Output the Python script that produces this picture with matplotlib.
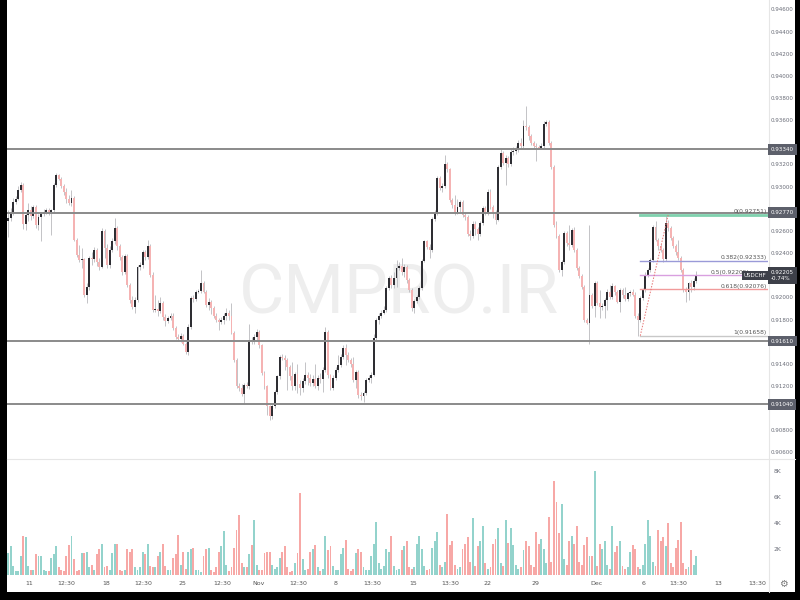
import numpy as np
import matplotlib
matplotlib.use("Agg")
from matplotlib import pyplot as plt
from matplotlib.patches import Rectangle

# USDCHF 4H candles
first_open = 0.9269
closes = [
    0.9272, 0.9277, 0.9287, 0.9289, 0.9297, 0.9302, 0.9267, 0.9275, 0.9279, 0.9274,
    0.9282, 0.9266, 0.9273, 0.9276, 0.9278, 0.9279, 0.9278, 0.9279, 0.9302, 0.9311,
    0.9307, 0.9301, 0.9296, 0.9289, 0.9286, 0.9290, 0.9252, 0.9239, 0.9234, 0.9235,
    0.9203, 0.9210, 0.9236, 0.9235, 0.9243, 0.9232, 0.9228, 0.9260, 0.9245, 0.9230,
    0.9243, 0.9251, 0.9263, 0.9247, 0.9237, 0.9223, 0.9238, 0.9212, 0.9198, 0.9192,
    0.9198, 0.9228, 0.9230, 0.9241, 0.9237, 0.9247, 0.9221, 0.9189, 0.9190, 0.9188,
    0.9195, 0.9183, 0.9179, 0.9182, 0.9184, 0.9173, 0.9165, 0.9163, 0.9166, 0.9158,
    0.9151, 0.9174, 0.9200, 0.9199, 0.9205, 0.9206, 0.9213, 0.9205, 0.9194, 0.9196,
    0.9191, 0.9184, 0.9180, 0.9178, 0.9180, 0.9184, 0.9186, 0.9184, 0.9168, 0.9144,
    0.9120, 0.9119, 0.9113, 0.9121, 0.9120, 0.9162, 0.9160, 0.9165, 0.9169, 0.9157,
    0.9132, 0.9120, 0.9102, 0.9093, 0.9102, 0.9115, 0.9129, 0.9147, 0.9146, 0.9144,
    0.9138, 0.9129, 0.9120, 0.9131, 0.9122, 0.9119, 0.9125, 0.9130, 0.9128, 0.9123,
    0.9127, 0.9120, 0.9128, 0.9127, 0.9135, 0.9169, 0.9130, 0.9119, 0.9128, 0.9135,
    0.9139, 0.9147, 0.9155, 0.9148, 0.9144, 0.9140, 0.9126, 0.9133, 0.9112, 0.9111,
    0.9114, 0.9126, 0.9128, 0.9130, 0.9164, 0.9180, 0.9184, 0.9186, 0.9189, 0.9209,
    0.9218, 0.9212, 0.9218, 0.9227, 0.9229, 0.9223, 0.9228, 0.9216, 0.9207, 0.9191,
    0.9197, 0.9201, 0.9209, 0.9233, 0.9251, 0.9246, 0.9243, 0.9271, 0.9277, 0.9308,
    0.9299, 0.9301, 0.9321, 0.9316, 0.9288, 0.9284, 0.9278, 0.9282, 0.9287, 0.9275,
    0.9273, 0.9258, 0.9256, 0.9267, 0.9262, 0.9258, 0.9268, 0.9281, 0.9277, 0.9296,
    0.9282, 0.9278, 0.9270, 0.9318, 0.9331, 0.9322, 0.9326, 0.9321, 0.9332, 0.9333,
    0.9334, 0.9340, 0.9337, 0.9355, 0.9354, 0.9346, 0.9340, 0.9337, 0.9336, 0.9335,
    0.9337, 0.9357, 0.9359, 0.9340, 0.9318, 0.9266, 0.9256, 0.9225, 0.9232, 0.9259,
    0.9250, 0.9248, 0.9261, 0.9243, 0.9227, 0.9220, 0.9210, 0.9180, 0.9177, 0.9203,
    0.9193, 0.9213, 0.9195, 0.9192, 0.9193, 0.9198, 0.9205, 0.9201, 0.9211, 0.9205,
    0.9196, 0.9207, 0.9203, 0.9199, 0.9204, 0.9205, 0.9203, 0.9184, 0.9180, 0.9200,
    0.9207, 0.9221, 0.9225, 0.9234, 0.9264, 0.9252, 0.9247, 0.9243, 0.9235, 0.9268,
    0.9263, 0.9254, 0.9247, 0.9241, 0.9236, 0.9225, 0.9207, 0.9205, 0.9213, 0.9210,
    0.9215, 0.92205,
]
highs = [
    0.9279, 0.9281, 0.9290, 0.9292, 0.9301, 0.9305, 0.9304, 0.9278, 0.9286, 0.9283,
    0.9284, 0.9284, 0.9276, 0.9278, 0.9280, 0.9281, 0.9281, 0.9280, 0.9304, 0.9313,
    0.9312, 0.9309, 0.9303, 0.9299, 0.9293, 0.9297, 0.9292, 0.9254, 0.9248, 0.9245,
    0.9236, 0.9213, 0.9238, 0.9241, 0.9246, 0.9245, 0.9236, 0.9263, 0.9262, 0.9249,
    0.9247, 0.9254, 0.9272, 0.9265, 0.9249, 0.9239, 0.9240, 0.9240, 0.9213, 0.9202,
    0.9201, 0.9230, 0.9232, 0.9243, 0.9243, 0.9252, 0.9249, 0.9223, 0.9203, 0.9198,
    0.9201, 0.9197, 0.9185, 0.9184, 0.9186, 0.9186, 0.9175, 0.9167, 0.9168, 0.9167,
    0.9160, 0.9176, 0.9202, 0.9203, 0.9207, 0.9208, 0.9225, 0.9215, 0.9207, 0.9200,
    0.9198, 0.9193, 0.9186, 0.9182, 0.9183, 0.9186, 0.9191, 0.9189, 0.9195, 0.9170,
    0.9146, 0.9123, 0.9122, 0.9123, 0.9124, 0.9176, 0.9165, 0.9167, 0.9172, 0.9171,
    0.9158, 0.9134, 0.9121, 0.9103, 0.9104, 0.9117, 0.9130, 0.9148, 0.9149, 0.9148,
    0.9146, 0.9139, 0.9142, 0.9133, 0.9140, 0.9126, 0.9128, 0.9142, 0.9133, 0.9131,
    0.9130, 0.9140, 0.9130, 0.9132, 0.9138, 0.9174, 0.9171, 0.9131, 0.9130, 0.9138,
    0.9148, 0.9149, 0.9157, 0.9158, 0.9151, 0.9146, 0.9147, 0.9135, 0.9135, 0.9115,
    0.9116, 0.9128, 0.9130, 0.9133, 0.9167, 0.9182, 0.9186, 0.9189, 0.9193, 0.9211,
    0.9220, 0.9221, 0.9223, 0.9234, 0.9232, 0.9236, 0.9231, 0.9230, 0.9218, 0.9209,
    0.9199, 0.9203, 0.9211, 0.9235, 0.9252, 0.9252, 0.9249, 0.9273, 0.9279, 0.9310,
    0.9310, 0.9304, 0.9329, 0.9323, 0.9317, 0.9290, 0.9293, 0.9289, 0.9288, 0.9288,
    0.9278, 0.9275, 0.9261, 0.9269, 0.9269, 0.9264, 0.9269, 0.9283, 0.9283, 0.9298,
    0.9298, 0.9284, 0.9279, 0.9320, 0.9334, 0.9333, 0.9329, 0.9328, 0.9335, 0.9336,
    0.9337, 0.9343, 0.9344, 0.9361, 0.9373, 0.9356, 0.9348, 0.9342, 0.9340, 0.9338,
    0.9340, 0.9360, 0.9361, 0.9361, 0.9342, 0.9320, 0.9269, 0.9258, 0.9234, 0.9260,
    0.9260, 0.9266, 0.9263, 0.9264, 0.9245, 0.9229, 0.9222, 0.9212, 0.9182, 0.9266,
    0.9204, 0.9215, 0.9215, 0.9207, 0.9195, 0.9200, 0.9208, 0.9212, 0.9213, 0.9212,
    0.9207, 0.9209, 0.9209, 0.9210, 0.9205, 0.9207, 0.9208, 0.9205, 0.9186, 0.9202,
    0.9209, 0.9223, 0.9227, 0.9236, 0.9266, 0.9269, 0.9254, 0.9249, 0.9245, 0.92751,
    0.9270, 0.9265, 0.9256, 0.9249, 0.9252, 0.9238, 0.9227, 0.9210, 0.9214, 0.9216,
    0.9218, 0.9224,
]
lows = [
    0.9255, 0.9269, 0.9275, 0.9285, 0.9288, 0.9296, 0.9262, 0.9261, 0.9269, 0.9270,
    0.9272, 0.9263, 0.9261, 0.9251, 0.9274, 0.9276, 0.9275, 0.9257, 0.9277, 0.9300,
    0.9306, 0.9299, 0.9293, 0.9286, 0.9284, 0.9283, 0.9251, 0.9237, 0.9232, 0.9227,
    0.9201, 0.9195, 0.9207, 0.9230, 0.9232, 0.9229, 0.9225, 0.9227, 0.9236, 0.9227,
    0.9227, 0.9241, 0.9249, 0.9243, 0.9234, 0.9221, 0.9222, 0.9210, 0.9195, 0.9190,
    0.9186, 0.9196, 0.9225, 0.9227, 0.9234, 0.9235, 0.9219, 0.9187, 0.9187, 0.9184,
    0.9186, 0.9180, 0.9175, 0.9177, 0.9180, 0.9171, 0.9163, 0.9161, 0.9160, 0.9157,
    0.9149, 0.9148, 0.9172, 0.9196, 0.9197, 0.9204, 0.9204, 0.9204, 0.9192, 0.9189,
    0.9185, 0.9182, 0.9178, 0.9171, 0.9176, 0.9176, 0.9180, 0.9180, 0.9167, 0.9142,
    0.9119, 0.9116, 0.9111, 0.9105, 0.9119, 0.9118, 0.9158, 0.9158, 0.9161, 0.9155,
    0.9130, 0.9118, 0.9094, 0.9090, 0.9091, 0.9101, 0.9113, 0.9127, 0.9144, 0.9135,
    0.9117, 0.9126, 0.9117, 0.9117, 0.9114, 0.9112, 0.9115, 0.9122, 0.9121, 0.9120,
    0.9120, 0.9119, 0.9117, 0.9123, 0.9115, 0.9133, 0.9128, 0.9117, 0.9117, 0.9126,
    0.9133, 0.9138, 0.9145, 0.9139, 0.9142, 0.9138, 0.9124, 0.9119, 0.9110, 0.9108,
    0.9106, 0.9112, 0.9124, 0.9123, 0.9129, 0.9162, 0.9176, 0.9182, 0.9185, 0.9187,
    0.9207, 0.9209, 0.9209, 0.9210, 0.9225, 0.9221, 0.9219, 0.9213, 0.9205, 0.9188,
    0.9186, 0.9195, 0.9199, 0.9207, 0.9232, 0.9244, 0.9236, 0.9241, 0.9269, 0.9275,
    0.9297, 0.9296, 0.9299, 0.9314, 0.9287, 0.9281, 0.9275, 0.9276, 0.9278, 0.9273,
    0.9270, 0.9256, 0.9252, 0.9254, 0.9257, 0.9252, 0.9256, 0.9266, 0.9275, 0.9275,
    0.9280, 0.9272, 0.9267, 0.9269, 0.9316, 0.9320, 0.9302, 0.9318, 0.9319, 0.9329,
    0.9330, 0.9332, 0.9335, 0.9335, 0.9352, 0.9343, 0.9338, 0.9335, 0.9324, 0.9334,
    0.9334, 0.9335, 0.9355, 0.9338, 0.9316, 0.9264, 0.9254, 0.9223, 0.9220, 0.9231,
    0.9247, 0.9243, 0.9246, 0.9241, 0.9225, 0.9218, 0.9208, 0.9178, 0.9176, 0.9158,
    0.9191, 0.9183, 0.9194, 0.9182, 0.9189, 0.9182, 0.9189, 0.9199, 0.9199, 0.9203,
    0.9195, 0.9187, 0.9200, 0.9197, 0.9197, 0.9202, 0.9202, 0.9182, 0.91658, 0.9178,
    0.9198, 0.9205, 0.9219, 0.9223, 0.9232, 0.9251, 0.9243, 0.9241, 0.9232, 0.9233,
    0.9260, 0.9252, 0.9245, 0.9239, 0.9234, 0.9223, 0.9205, 0.9196, 0.9198, 0.9205,
    0.9207, 0.9213,
]
# volume in thousands
volumes = [
    1.7, 2.2, 0.7, 0.3, 0.3, 1.5, 3.0, 2.9, 0.7, 0.4, 0.4, 1.6,
    1.5, 1.5, 0.4, 0.3, 0.3, 1.3, 1.6, 2.2, 0.6, 0.4, 0.3, 1.5,
    2.3, 3.0, 1.2, 0.3, 0.4, 1.7, 1.7, 1.8, 0.6, 0.8, 0.4, 1.6,
    2.0, 2.4, 0.6, 0.7, 0.4, 1.7, 2.4, 2.4, 0.4, 0.3, 0.4, 2.0,
    1.8, 2.0, 0.6, 0.4, 0.6, 1.8, 1.6, 2.4, 0.7, 0.6, 0.6, 1.5,
    1.8, 2.4, 0.7, 0.4, 0.4, 1.3, 1.6, 3.1, 0.8, 1.8, 0.5, 1.8,
    2.0, 2.1, 0.4, 0.4, 0.2, 1.5, 2.0, 2.1, 0.4, 0.2, 0.6, 1.8,
    2.2, 3.4, 0.8, 0.3, 0.6, 2.1, 3.5, 4.6, 0.9, 0.6, 0.6, 1.6,
    2.3, 4.2, 0.8, 0.4, 0.4, 1.7, 1.8, 1.8, 0.8, 0.5, 0.6, 1.3,
    1.8, 2.2, 0.6, 0.2, 0.3, 0.9, 1.7, 6.3,
    1.2, 0.4, 0.5, 1.8, 2.0, 2.3, 0.6, 0.3, 0.5, 3.0, 1.9, 2.2,
    0.7, 0.4, 0.4, 1.6, 2.1, 2.7, 0.5, 0.3, 0.5, 1.7, 2.0, 1.8,
    0.6, 0.4, 0.4, 1.5, 2.4, 4.1, 0.9, 0.5, 0.7, 2.0, 1.8, 3.0,
    0.7, 0.4, 0.5, 1.9, 2.2, 2.6, 0.6, 0.5, 0.6, 2.4, 3.0, 2.0,
    0.7, 0.4, 0.5, 2.1, 2.6, 3.3, 0.8, 0.6, 1.0, 4.7, 2.3, 2.6,
    0.8, 0.5, 0.6, 2.0, 2.4, 2.9, 1.0, 4.4, 0.7, 2.2, 2.6, 3.8,
    0.9, 0.5, 0.6, 2.4, 2.8, 3.6, 0.9, 0.7, 4.2, 2.5, 3.6, 2.3,
    0.8, 0.5, 0.6, 1.9, 2.6, 2.2, 0.8, 0.6, 3.3, 2.4, 2.8, 2.0,
    0.9, 4.5, 1.0, 7.2, 5.6, 3.2, 5.5, 1.2, 0.8, 2.6, 3.0, 2.4,
    3.8, 1.0, 0.8, 2.3, 2.9, 1.5, 1.5, 8.0, 0.7, 2.4, 2.0, 2.6,
    0.8, 0.5, 3.8, 1.8, 2.2, 2.6, 0.7, 0.5, 0.6, 1.8, 2.3, 2.0,
    0.6, 0.5, 0.8, 2.4, 4.2, 3.0, 1.0, 0.7, 3.5, 2.6, 2.9, 2.2,
    4.0, 0.9, 0.6, 2.1, 2.7, 4.1, 0.9, 0.5, 0.6, 1.9, 0.8, 1.5,
]

levels = [0.93340, 0.92770, 0.91610, 0.91040]
fib_ratios = ["0", "0.382", "0.5", "0.618", "1"]
fib_prices = [0.92751, 0.92333, 0.92205, 0.92076, 0.91658]
fib_colors = ["#7fd1ae", "#9a9ad8", "#d9a0e0", "#f19a9a", "#c8c8c8"]
fib_start = 249   # candle of the 0.91658 low
fib_top = 260     # candle of the 0.92751 high

price_ticks = [0.946, 0.944, 0.942, 0.940, 0.938, 0.936, 0.932, 0.930,
               0.926, 0.924, 0.920, 0.918, 0.914, 0.912, 0.908, 0.906]
vol_ticks = [2, 4, 6, 8]
time_pos = [8.3, 22.8, 38.6, 53.2, 68.5, 84.3, 98.5, 114.2, 128.8, 143.4,
            159.5, 174.1, 189.0, 207.6, 231.6, 250.1, 263.9, 279.6, 295.0]
time_labels = ["11", "12:30", "18", "12:30", "25", "12:30", "Nov", "12:30", "8", "13:30",
               "15", "13:30", "22", "29", "Dec", "6", "13:30", "13", "13:30"]
last_price = 0.92205
change = "-0.74%"

UP_BODY = "#2e2e33"
DOWN_BODY = "#f5b3b3"
WICK = "#b9b9bd"
VOL_UP = "#93d3cc"
VOL_DOWN = "#f7a8a6"
LABEL_BG = "#5d606b"
TXT = "#6a6d78"

opens = [first_open] + closes[:-1]
n = len(closes)
x = np.arange(n)
o = np.array(opens)
c = np.array(closes)
up = c >= o

W, H = 800, 600
fig = plt.figure(figsize=(8, 6), dpi=100, facecolor="black")
fig.patches.append(Rectangle((7 / W, 8 / H), 788 / W, 592 / H, transform=fig.transFigure,
                             facecolor="white", edgecolor="none", zorder=-10))

ax = fig.add_axes([7 / W, 1 - 458 / H, 761 / W, 458 / H])
axv = fig.add_axes([7 / W, 1 - 575 / H, 761 / W, 115 / H])
for a in (ax, axv):
    a.set_xlim(-0.4, 299.3)
    a.set_facecolor("none")
    for s in a.spines.values():
        s.set_visible(False)
    a.tick_params(length=0)
ax.set_ylim(0.90554, 0.94690)
axv.set_ylim(0, 8.85)
ax.set_xticks([])
ax.set_yticks([])

# separators
fig.add_artist(plt.Line2D([7 / W, 795 / W], [1 - 459 / H] * 2, color="#e6e6e6", lw=0.8,
                          zorder=-5))
fig.add_artist(plt.Line2D([769 / W] * 2, [8 / H, 1], color="#e6e6e6", lw=0.8, zorder=-5))

# watermark
ax.text(399 / W, 1 - 294 / H, "CMPRO.IR", transform=fig.transFigure, ha="center", va="center",
        fontsize=50, color="#eeeeee", family="Roboto", zorder=0)

# candles
ax.vlines(x, lows, highs, color=WICK, lw=0.6, zorder=2)
body_lo = np.minimum(o, c)
body_h = np.maximum(np.abs(c - o), 0.00003)
ax.bar(x[up], body_h[up], bottom=body_lo[up], width=0.75, color=UP_BODY, zorder=3)
ax.bar(x[~up], body_h[~up], bottom=body_lo[~up], width=0.75, color=DOWN_BODY, zorder=3)

# volume
vol = np.array(volumes)
axv.bar(x[up], vol[up], width=0.75, color=VOL_UP)
axv.bar(x[~up], vol[~up], width=0.75, color=VOL_DOWN)

# horizontal levels
for lv in levels:
    ax.axhline(lv, color="#8a8a8a", lw=1.4, zorder=4)

# fibonacci retracement
for r, p, col in zip(fib_ratios, fib_prices, fib_colors):
    ax.plot([fib_start, 299.3], [p, p], color=col, lw=2 if r == "0" else 1, zorder=4)
    right = 292.0 if r == "0.5" else 298.8   # keep clear of the symbol tag
    ax.text(right, p + 0.00005, f"{r}({p:.5f})", ha="right", va="bottom",
            fontsize=4.3, color="#555555", zorder=5)
ax.plot([fib_start, fib_top], [fib_prices[-1], fib_prices[0]], color="#e57373", lw=0.7,
        ls=(0, (1.5, 1.5)), zorder=4)

# price scale
tr = ax.get_yaxis_transform()
for p in price_ticks:
    ax.text(1.004, p, f"{p:.5f}", transform=tr, ha="left", va="center", fontsize=4.1,
            color=TXT, clip_on=False)
for lv in levels:
    ax.text(1.0035, lv, f"{lv:.5f}", transform=tr, ha="left", va="center", fontsize=4.1,
            color="white", clip_on=False, zorder=6,
            bbox=dict(boxstyle="square,pad=0.5", fc=LABEL_BG, ec="none"))
ax.text(1.0035, last_price, f"{last_price:.5f}\n{change}", transform=tr, ha="left", va="center",
        fontsize=4.1, color="white", clip_on=False, zorder=6, linespacing=1.3,
        bbox=dict(boxstyle="square,pad=0.5", fc="#3d4049", ec="none"))
ax.text(0.998, last_price, "USDCHF", transform=tr, ha="right", va="center",
        fontsize=4.0, color="white", zorder=6,
        bbox=dict(boxstyle="square,pad=0.35", fc="#3d4049", ec="none"))

trv = axv.get_yaxis_transform()
for v in vol_ticks:
    axv.text(1.0075, v, f"{v}K", transform=trv, ha="left", va="center", fontsize=4.3,
             color=TXT, clip_on=False)
axv.set_yticks([])

# time axis
axv.set_xticks(time_pos)
axv.set_xticklabels(time_labels, fontsize=4.5, color="#555555")
axv.tick_params(axis="x", pad=4)
fig.text(783 / W, 1 - 584 / H, "\u2699", ha="center", va="center", fontsize=7, color="#777777")

fig.savefig("out.png", dpi=100, facecolor="black")
